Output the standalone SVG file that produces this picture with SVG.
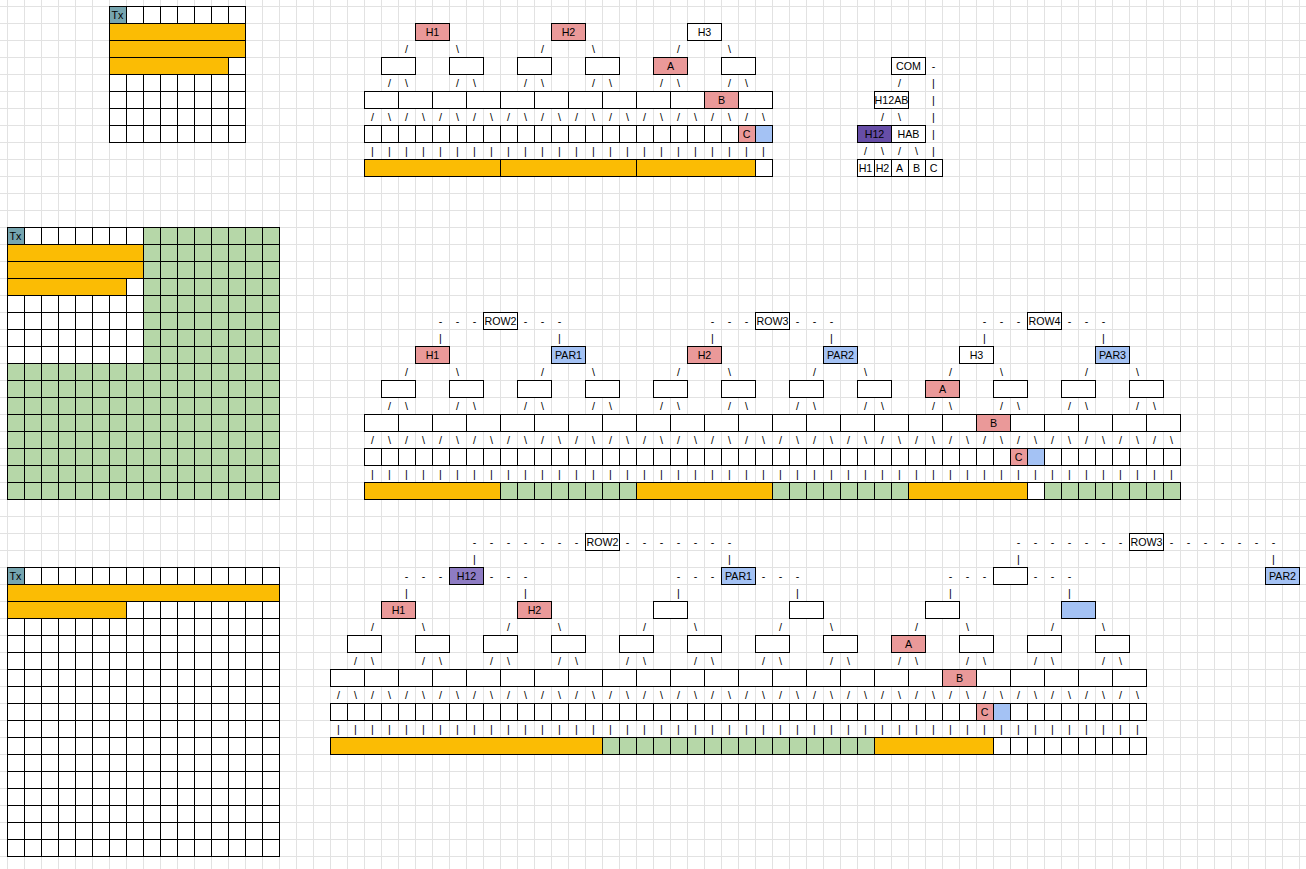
<svg xmlns="http://www.w3.org/2000/svg" width="1306" height="869" viewBox="0 0 1306 869">
<defs>
<pattern id="bg" x="7" y="6" width="17" height="17" patternUnits="userSpaceOnUse"><path d="M0 0.5H17M0.5 0V17" stroke="#e2e2e2" fill="none"/></pattern>
<pattern id="cell" x="7" y="6" width="17" height="17" patternUnits="userSpaceOnUse"><path d="M0 0.5H17M0.5 0V17" stroke="#000" fill="none"/></pattern>
<pattern id="vl" x="7" y="6" width="17" height="17" patternUnits="userSpaceOnUse"><path d="M0.5 0V17" stroke="#000"/></pattern>
<pattern id="vl2" x="24" y="6" width="34" height="17" patternUnits="userSpaceOnUse"><path d="M0.5 0V17" stroke="#000"/></pattern>
<style>
.k{stroke:#000;stroke-width:1;fill:#fff}
.o{fill:#fbbc04}
.g{fill:#b6d7a8}
.p{fill:#ea9999}
.u{fill:#a4c2f4}
.x{fill:#76a5af}
.v{fill:#674ea7}
.w{fill:#8e7cc3}
.n{fill:none}
text{font-family:"Liberation Sans",Arial,sans-serif;font-size:10.7px;text-anchor:middle;fill:#000}
</style>
</defs>
<rect width="1306" height="869" fill="#fff"/>
<rect width="1306" height="869" fill="url(#bg)"/>

<g id="grid-top">
<rect x="109" y="6" width="136" height="136" fill="#fff"/>
<rect class="x" x="109" y="6" width="17" height="17"/>
<rect x="109" y="6" width="136" height="136" fill="url(#cell)"/>
<rect class="k n" x="109.5" y="6.5" width="136" height="136"/>
<rect class="k o" x="109.5" y="23.5" width="136" height="17"/>
<rect class="k o" x="109.5" y="40.5" width="136" height="17"/>
<rect class="k o" x="109.5" y="57.5" width="119" height="17"/>
<text x="117.5" y="19">Tx</text>
</g>

<g id="grid-mid">
<rect x="7" y="227" width="272" height="272" fill="#fff"/>
<rect class="g" x="143" y="227" width="136" height="136"/>
<rect class="g" x="7" y="363" width="272" height="136"/>
<rect class="x" x="7" y="227" width="17" height="17"/>
<rect x="7" y="227" width="272" height="272" fill="url(#cell)"/>
<rect class="k n" x="7.5" y="227.5" width="272" height="272"/>
<rect class="k o" x="7.5" y="244.5" width="136" height="17"/>
<rect class="k o" x="7.5" y="261.5" width="136" height="17"/>
<rect class="k o" x="7.5" y="278.5" width="119" height="17"/>
<text x="15.5" y="240">Tx</text>
</g>

<g id="grid-bot">
<rect x="7" y="567" width="272" height="289" fill="#fff"/>
<rect class="x" x="7" y="567" width="17" height="17"/>
<rect x="7" y="567" width="272" height="289" fill="url(#cell)"/>
<rect class="k n" x="7.5" y="567.5" width="272" height="289"/>
<rect class="k o" x="7.5" y="584.5" width="272" height="17"/>
<rect class="k o" x="7.5" y="601.5" width="119" height="17"/>
<text x="15.5" y="580">Tx</text>
</g>

<!-- TOP TREE -->
<g id="tree-top">
<g id="t1-H1"><rect class="k p" x="415.5" y="23.5" width="34" height="17"/><text x="432.5" y="36">H1</text></g>
<g id="t1-H2"><rect class="k p" x="551.5" y="23.5" width="34" height="17"/><text x="568.5" y="36">H2</text></g>
<g id="t1-H3"><rect class="k" x="687.5" y="23.5" width="34" height="17"/><text x="704.5" y="36">H3</text></g>
<g id="t1-level2">
<rect class="k" x="381.5" y="57.5" width="34" height="17"/>
<rect class="k" x="449.5" y="57.5" width="34" height="17"/>
<rect class="k" x="517.5" y="57.5" width="34" height="17"/>
<rect class="k" x="585.5" y="57.5" width="34" height="17"/>
<rect class="k" x="721.5" y="57.5" width="34" height="17"/>
</g>
<g id="t1-A"><rect class="k p" x="653.5" y="57.5" width="34" height="17"/><text x="670.5" y="70">A</text></g>
<g id="t1-level3">
<rect class="k" x="364.5" y="91.5" width="408" height="17"/>
<rect x="364" y="91" width="408" height="17" fill="url(#vl2)"/>
</g>
<g id="t1-B"><rect class="k p" x="704.5" y="91.5" width="34" height="17"/><text x="721.5" y="104">B</text></g>
<g id="t1-level4">
<rect class="k" x="364.5" y="125.5" width="408" height="17"/>
<rect x="364" y="125" width="408" height="17" fill="url(#vl)"/>
</g>
<g id="t1-C"><rect class="k p" x="738.5" y="125.5" width="17" height="17"/><text x="746.5" y="138">C</text></g>
<g id="t1-P"><rect class="k u" x="755.5" y="125.5" width="17" height="17"/></g>
<g id="t1-data">
<rect class="k o" x="364.5" y="159.5" width="136" height="17"/>
<rect class="k o" x="500.5" y="159.5" width="136" height="17"/>
<rect class="k o" x="636.5" y="159.5" width="119" height="17"/>
<rect class="k" x="755.5" y="159.5" width="17" height="17"/>
</g>
</g>

<!-- COM TREE -->
<g id="tree-com">
<g id="com-COM"><rect class="k" x="891.5" y="57.5" width="34" height="17"/><text x="908.5" y="70">COM</text></g>
<g id="com-H12AB"><rect class="k" x="874.5" y="91.5" width="34" height="17"/><text x="891.5" y="104">H12AB</text></g>
<g id="com-H12"><rect class="k v" x="857.5" y="125.5" width="34" height="17"/><text x="874.5" y="138">H12</text></g>
<g id="com-HAB"><rect class="k" x="891.5" y="125.5" width="34" height="17"/><text x="908.5" y="138">HAB</text></g>
<g id="com-H1"><rect class="k" x="857.5" y="159.5" width="17" height="17"/><text x="865.5" y="172">H1</text></g>
<g id="com-H2"><rect class="k" x="874.5" y="159.5" width="17" height="17"/><text x="882.5" y="172">H2</text></g>
<g id="com-A"><rect class="k" x="891.5" y="159.5" width="17" height="17"/><text x="899.5" y="172">A</text></g>
<g id="com-B"><rect class="k" x="908.5" y="159.5" width="17" height="17"/><text x="916.5" y="172">B</text></g>
<g id="com-C"><rect class="k" x="925.5" y="159.5" width="17" height="17"/><text x="933.5" y="172">C</text></g>
</g>

<!-- MIDDLE TREE -->
<g id="tree-mid">
<g id="t2-ROW2"><rect class="k" x="483.5" y="312.5" width="34" height="17"/><text x="500.5" y="325">ROW2</text></g>
<g id="t2-ROW3"><rect class="k" x="755.5" y="312.5" width="34" height="17"/><text x="772.5" y="325">ROW3</text></g>
<g id="t2-ROW4"><rect class="k" x="1027.5" y="312.5" width="34" height="17"/><text x="1044.5" y="325">ROW4</text></g>
<g id="t2-H1"><rect class="k p" x="415.5" y="346.5" width="34" height="17"/><text x="432.5" y="359">H1</text></g>
<g id="t2-PAR1"><rect class="k u" x="551.5" y="346.5" width="34" height="17"/><text x="568.5" y="359">PAR1</text></g>
<g id="t2-H2"><rect class="k p" x="687.5" y="346.5" width="34" height="17"/><text x="704.5" y="359">H2</text></g>
<g id="t2-PAR2"><rect class="k u" x="823.5" y="346.5" width="34" height="17"/><text x="840.5" y="359">PAR2</text></g>
<g id="t2-H3"><rect class="k" x="959.5" y="346.5" width="34" height="17"/><text x="976.5" y="359">H3</text></g>
<g id="t2-PAR3"><rect class="k u" x="1095.5" y="346.5" width="34" height="17"/><text x="1112.5" y="359">PAR3</text></g>
<g id="t2-level2">
<rect class="k" x="381.5" y="380.5" width="34" height="17"/>
<rect class="k" x="449.5" y="380.5" width="34" height="17"/>
<rect class="k" x="517.5" y="380.5" width="34" height="17"/>
<rect class="k" x="585.5" y="380.5" width="34" height="17"/>
<rect class="k" x="653.5" y="380.5" width="34" height="17"/>
<rect class="k" x="721.5" y="380.5" width="34" height="17"/>
<rect class="k" x="789.5" y="380.5" width="34" height="17"/>
<rect class="k" x="857.5" y="380.5" width="34" height="17"/>
<rect class="k" x="993.5" y="380.5" width="34" height="17"/>
<rect class="k" x="1061.5" y="380.5" width="34" height="17"/>
<rect class="k" x="1129.5" y="380.5" width="34" height="17"/>
</g>
<g id="t2-A"><rect class="k p" x="925.5" y="380.5" width="34" height="17"/><text x="942.5" y="393">A</text></g>
<g id="t2-level3">
<rect class="k" x="364.5" y="414.5" width="816" height="17"/>
<rect x="364" y="414" width="816" height="17" fill="url(#vl2)"/>
</g>
<g id="t2-B"><rect class="k p" x="976.5" y="414.5" width="34" height="17"/><text x="993.5" y="427">B</text></g>
<g id="t2-level4">
<rect class="k" x="364.5" y="448.5" width="816" height="17"/>
<rect x="364" y="448" width="816" height="17" fill="url(#vl)"/>
</g>
<g id="t2-C"><rect class="k p" x="1010.5" y="448.5" width="17" height="17"/><text x="1018.5" y="461">C</text></g>
<g id="t2-P"><rect class="k u" x="1027.5" y="448.5" width="17" height="17"/></g>
<g id="t2-data">
<rect class="k o" x="364.5" y="482.5" width="136" height="17"/>
<rect class="k g" x="500.5" y="482.5" width="136" height="17"/>
<rect x="500" y="482" width="136" height="17" fill="url(#vl)"/>
<rect class="k o" x="636.5" y="482.5" width="136" height="17"/>
<rect class="k g" x="772.5" y="482.5" width="136" height="17"/>
<rect x="772" y="482" width="136" height="17" fill="url(#vl)"/>
<rect class="k o" x="908.5" y="482.5" width="119" height="17"/>
<rect class="k" x="1027.5" y="482.5" width="17" height="17"/>
<rect class="k g" x="1044.5" y="482.5" width="136" height="17"/>
<rect x="1044" y="482" width="136" height="17" fill="url(#vl)"/>
</g>
</g>

<!-- BOTTOM TREE -->
<g id="tree-bot">
<g id="t3-ROW2"><rect class="k" x="585.5" y="533.5" width="34" height="17"/><text x="602.5" y="546">ROW2</text></g>
<g id="t3-ROW3"><rect class="k" x="1129.5" y="533.5" width="34" height="17"/><text x="1146.5" y="546">ROW3</text></g>
<g id="t3-H12"><rect class="k w" x="449.5" y="567.5" width="34" height="17"/><text x="466.5" y="580">H12</text></g>
<g id="t3-PAR1"><rect class="k u" x="721.5" y="567.5" width="34" height="17"/><text x="738.5" y="580">PAR1</text></g>
<g id="t3-N3"><rect class="k" x="993.5" y="567.5" width="34" height="17"/></g>
<g id="t3-PAR2"><rect class="k u" x="1265.5" y="567.5" width="34" height="17"/><text x="1282.5" y="580">PAR2</text></g>
<g id="t3-H1"><rect class="k p" x="381.5" y="601.5" width="34" height="17"/><text x="398.5" y="614">H1</text></g>
<g id="t3-H2"><rect class="k p" x="517.5" y="601.5" width="34" height="17"/><text x="534.5" y="614">H2</text></g>
<g id="t3-level1">
<rect class="k" x="653.5" y="601.5" width="34" height="17"/>
<rect class="k" x="789.5" y="601.5" width="34" height="17"/>
<rect class="k" x="925.5" y="601.5" width="34" height="17"/>
<rect class="k u" x="1061.5" y="601.5" width="34" height="17"/>
</g>
<g id="t3-level2">
<rect class="k" x="347.5" y="635.5" width="34" height="17"/>
<rect class="k" x="415.5" y="635.5" width="34" height="17"/>
<rect class="k" x="483.5" y="635.5" width="34" height="17"/>
<rect class="k" x="551.5" y="635.5" width="34" height="17"/>
<rect class="k" x="619.5" y="635.5" width="34" height="17"/>
<rect class="k" x="687.5" y="635.5" width="34" height="17"/>
<rect class="k" x="755.5" y="635.5" width="34" height="17"/>
<rect class="k" x="823.5" y="635.5" width="34" height="17"/>
<rect class="k" x="959.5" y="635.5" width="34" height="17"/>
<rect class="k" x="1027.5" y="635.5" width="34" height="17"/>
<rect class="k" x="1095.5" y="635.5" width="34" height="17"/>
</g>
<g id="t3-A"><rect class="k p" x="891.5" y="635.5" width="34" height="17"/><text x="908.5" y="648">A</text></g>
<g id="t3-level3">
<rect class="k" x="330.5" y="669.5" width="816" height="17"/>
<rect x="330" y="669" width="816" height="17" fill="url(#vl2)"/>
</g>
<g id="t3-B"><rect class="k p" x="942.5" y="669.5" width="34" height="17"/><text x="959.5" y="682">B</text></g>
<g id="t3-level4">
<rect class="k" x="330.5" y="703.5" width="816" height="17"/>
<rect x="330" y="703" width="816" height="17" fill="url(#vl)"/>
</g>
<g id="t3-C"><rect class="k p" x="976.5" y="703.5" width="17" height="17"/><text x="984.5" y="716">C</text></g>
<g id="t3-P"><rect class="k u" x="993.5" y="703.5" width="17" height="17"/></g>
<g id="t3-data">
<rect class="k o" x="330.5" y="737.5" width="272" height="17"/>
<rect class="k g" x="602.5" y="737.5" width="272" height="17"/>
<rect x="602" y="737" width="272" height="17" fill="url(#vl)"/>
<rect class="k o" x="874.5" y="737.5" width="119" height="17"/>
<rect class="k" x="993.5" y="737.5" width="153" height="17"/>
<rect x="993" y="737" width="153" height="17" fill="url(#vl)"/>
</g>
</g>

<g id="connectors">
<g id="c-top">
<text x="406.5 457.5 542.5 593.5 678.5 729.5" y="53">/\/\/\</text>
<text x="389.5 406.5 457.5 474.5 525.5 542.5 593.5 610.5 661.5 678.5 729.5 746.5" y="87">/\/\/\/\/\/\</text>
<text x="372.5 389.5 406.5 423.5 440.5 457.5 474.5 491.5 508.5 525.5 542.5 559.5 576.5 593.5 610.5 627.5 644.5 661.5 678.5 695.5 712.5 729.5 746.5 763.5" y="121">/\/\/\/\/\/\/\/\/\/\/\/\</text>
<text x="372.5 389.5 406.5 423.5 440.5 457.5 474.5 491.5 508.5 525.5 542.5 559.5 576.5 593.5 610.5 627.5 644.5 661.5 678.5 695.5 712.5 729.5 746.5 763.5" y="155">||||||||||||||||||||||||</text>
</g>
<g id="c-com">
<text x="933.5" y="70">-</text>
<text x="899.5 933.5" y="87">/|</text>
<text x="933.5" y="104">|</text>
<text x="882.5 899.5 933.5" y="121">/\|</text>
<text x="933.5" y="138">|</text>
<text x="865.5 882.5 899.5 916.5 933.5" y="155">/\/\|</text>
</g>
<g id="c-mid">
<text x="440.5 457.5 474.5" y="325">---</text>
<text x="525.5 542.5 559.5" y="325">---</text>
<text x="712.5 729.5 746.5" y="325">---</text>
<text x="797.5 814.5 831.5" y="325">---</text>
<text x="984.5 1001.5 1018.5" y="325">---</text>
<text x="1069.5 1086.5 1103.5" y="325">---</text>
<text x="440.5 559.5 712.5 831.5 984.5 1103.5" y="342">||||||</text>
<text x="406.5 457.5 542.5 593.5 678.5 729.5 814.5 865.5 950.5 1001.5 1086.5 1137.5" y="376">/\/\/\/\/\/\</text>
<text x="389.5 406.5 457.5 474.5 525.5 542.5 593.5 610.5 661.5 678.5 729.5 746.5 797.5 814.5 865.5 882.5 933.5 950.5 1001.5 1018.5 1069.5 1086.5 1137.5 1154.5" y="410">/\/\/\/\/\/\/\/\/\/\/\/\</text>
<text x="372.5 389.5 406.5 423.5 440.5 457.5 474.5 491.5 508.5 525.5 542.5 559.5 576.5 593.5 610.5 627.5 644.5 661.5 678.5 695.5 712.5 729.5 746.5 763.5 780.5 797.5 814.5 831.5 848.5 865.5 882.5 899.5 916.5 933.5 950.5 967.5 984.5 1001.5 1018.5 1035.5 1052.5 1069.5 1086.5 1103.5 1120.5 1137.5 1154.5 1171.5" y="444">/\/\/\/\/\/\/\/\/\/\/\/\/\/\/\/\/\/\/\/\/\/\/\/\</text>
<text x="372.5 389.5 406.5 423.5 440.5 457.5 474.5 491.5 508.5 525.5 542.5 559.5 576.5 593.5 610.5 627.5 644.5 661.5 678.5 695.5 712.5 729.5 746.5 763.5 780.5 797.5 814.5 831.5 848.5 865.5 882.5 899.5 916.5 933.5 950.5 967.5 984.5 1001.5 1018.5 1035.5 1052.5 1069.5 1086.5 1103.5 1120.5 1137.5 1154.5 1171.5" y="478">||||||||||||||||||||||||||||||||||||||||||||||||</text>
</g>
<g id="c-bot">
<text x="474.5 491.5 508.5 525.5 542.5 559.5 576.5" y="546">-------</text>
<text x="627.5 644.5 661.5 678.5 695.5 712.5 729.5" y="546">-------</text>
<text x="1018.5 1035.5 1052.5 1069.5 1086.5 1103.5 1120.5" y="546">-------</text>
<text x="1171.5 1188.5 1205.5 1222.5 1239.5 1256.5 1273.5" y="546">-------</text>
<text x="474.5 729.5 1018.5 1273.5" y="563">||||</text>
<text x="406.5 423.5 440.5" y="580">---</text>
<text x="491.5 508.5 525.5" y="580">---</text>
<text x="678.5 695.5 712.5" y="580">---</text>
<text x="763.5 780.5 797.5" y="580">---</text>
<text x="950.5 967.5 984.5" y="580">---</text>
<text x="1035.5 1052.5 1069.5" y="580">---</text>
<text x="406.5 525.5 678.5 797.5 950.5 1069.5" y="597">||||||</text>
<text x="372.5 423.5 508.5 559.5 644.5 695.5 780.5 831.5 916.5 967.5 1052.5 1103.5" y="631">/\/\/\/\/\/\</text>
<text x="355.5 372.5 423.5 440.5 491.5 508.5 559.5 576.5 627.5 644.5 695.5 712.5 763.5 780.5 831.5 848.5 899.5 916.5 967.5 984.5 1035.5 1052.5 1103.5 1120.5" y="665">/\/\/\/\/\/\/\/\/\/\/\/\</text>
<text x="338.5 355.5 372.5 389.5 406.5 423.5 440.5 457.5 474.5 491.5 508.5 525.5 542.5 559.5 576.5 593.5 610.5 627.5 644.5 661.5 678.5 695.5 712.5 729.5 746.5 763.5 780.5 797.5 814.5 831.5 848.5 865.5 882.5 899.5 916.5 933.5 950.5 967.5 984.5 1001.5 1018.5 1035.5 1052.5 1069.5 1086.5 1103.5 1120.5 1137.5" y="699">/\/\/\/\/\/\/\/\/\/\/\/\/\/\/\/\/\/\/\/\/\/\/\/\</text>
<text x="338.5 355.5 372.5 389.5 406.5 423.5 440.5 457.5 474.5 491.5 508.5 525.5 542.5 559.5 576.5 593.5 610.5 627.5 644.5 661.5 678.5 695.5 712.5 729.5 746.5 763.5 780.5 797.5 814.5 831.5 848.5 865.5 882.5 899.5 916.5 933.5 950.5 967.5 984.5 1001.5 1018.5 1035.5 1052.5 1069.5 1086.5 1103.5 1120.5 1137.5" y="733">||||||||||||||||||||||||||||||||||||||||||||||||</text>
</g>
</g>
</svg>
